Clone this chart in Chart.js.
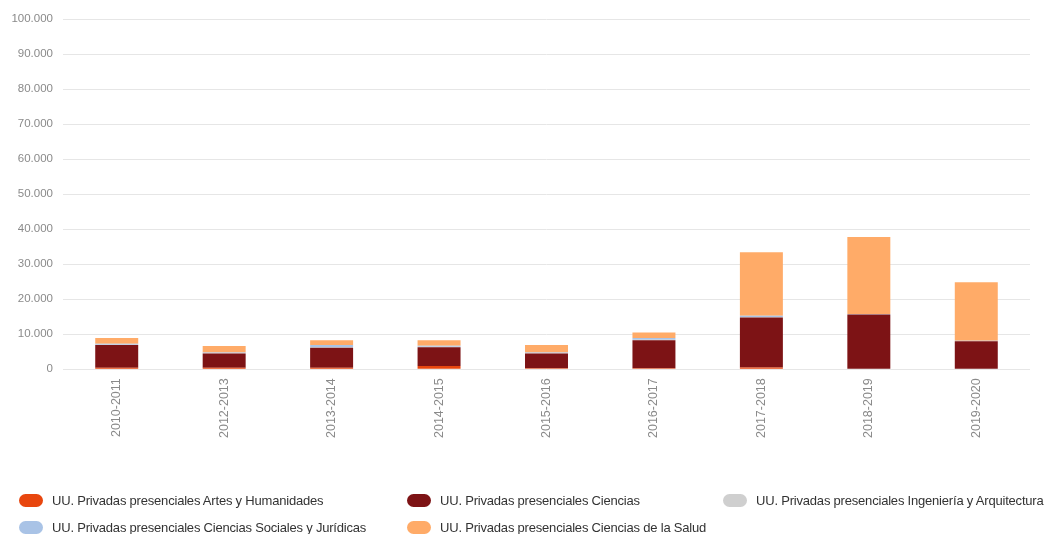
<!DOCTYPE html>
<html>
<head>
<meta charset="utf-8">
<script src="https://cdn.jsdelivr.net/npm/chart.js@4/dist/chart.umd.min.js"></script>
<style>
  html, body { margin: 0; padding: 0; background: #fff; }
  #wrap { position: relative; width: 1047px; height: 534px; overflow: hidden; }
  #chartBox { position: absolute; left: 0; top: 0; width: 1047px; height: 460px; }
  #legend { position: absolute; left: 0; top: 0; width: 1047px; height: 534px; pointer-events: none; }
  .lg-item { position: absolute; display: flex; align-items: center; white-space: nowrap;
    font-family: "Liberation Sans", Arial, sans-serif; font-size: 13px; letter-spacing: -0.2px; color: #333; }
  .lg-box { width: 24px; height: 13px; border-radius: 7px; margin-right: 9px; flex: none; }
</style>
</head>
<body>
<div id="wrap">
  <div id="chartBox"><canvas id="c"></canvas></div>
  <div id="legend"></div>
</div>
<script>
const categories = ['2010-2011','2012-2013','2013-2014','2014-2015','2015-2016','2016-2017','2017-2018','2018-2019','2019-2020'];
const seriesNames = [
  'UU. Privadas presenciales Artes y Humanidades',
  'UU. Privadas presenciales Ciencias',
  'UU. Privadas presenciales Ingeniería y Arquitectura',
  'UU. Privadas presenciales Ciencias Sociales y Jurídicas',
  'UU. Privadas presenciales Ciencias de la Salud'
];
const artes      = [400, 400, 400, 900, 300, 300, 500, 100, 100];
const ciencias   = [6500, 4100, 5700, 5400, 4200, 8000, 14300, 15500, 7900];
const ingenieria = [100, 100, 200, 100, 100, 100, 100, 50, 50];
const sociales   = [300, 200, 600, 300, 200, 500, 400, 100, 50];
const salud      = [1600, 1850, 1400, 1600, 2100, 1600, 18100, 22000, 16700];
const yTicks     = [0, 10000, 20000, 30000, 40000, 50000, 60000, 70000, 80000, 90000, 100000];

const colors = ['#e8460e', '#7d1315', '#cfcfcf', '#a9c3e6', '#ffab68'];
const values = [artes, ciencias, ingenieria, sociales, salud];

const datasets = seriesNames.map((name, i) => ({
  label: name,
  data: values[i],
  backgroundColor: colors[i],
  borderWidth: 0,
  categoryPercentage: 0.8,
  barPercentage: 0.5
}));

function fmt(v) {
  return String(v).replace(/\B(?=(\d{3})+(?!\d))/g, '.');
}

const chart = new Chart(document.getElementById('c'), {
  type: 'bar',
  data: { labels: categories, datasets },
  options: {
    responsive: true,
    maintainAspectRatio: false,
    animation: false,
    layout: { padding: { top: 19, right: 17, bottom: 13, left: 0 } },
    plugins: { legend: { display: false }, tooltip: { enabled: false } },
    scales: {
      x: {
        stacked: true,
        grid: { display: false, drawTicks: false },
        border: { display: false },
        ticks: {
          color: '#8a8a8a', font: { family: 'Liberation Sans, Arial, sans-serif', size: 12.5 },
          minRotation: 90, maxRotation: 90, padding: 9, autoSkip: false
        }
      },
      y: {
        stacked: true,
        min: 0, max: 100000,
        afterBuildTicks: (s) => { s.ticks = yTicks.map(v => ({ value: v })); },
        afterFit: (s) => { s.width = 63; },
        grid: { color: '#e6e6e6', lineWidth: 1, drawTicks: false },
        border: { display: false },
        ticks: {
          color: '#8a8a8a', font: { family: 'Liberation Sans, Arial, sans-serif', size: 11.5 },
          padding: 10,
          callback: (v) => fmt(v)
        }
      }
    }
  }
});

// HTML legend built from the chart's datasets
const colLeft = [19, 407, 723];
const rowTop = [493, 520];
const lg = document.getElementById('legend');
chart.data.datasets.forEach((ds, i) => {
  const item = document.createElement('div');
  item.className = 'lg-item';
  item.style.left = colLeft[i % 3] + 'px';
  item.style.top = rowTop[Math.floor(i / 3)] + 'px';
  const box = document.createElement('span');
  box.className = 'lg-box';
  box.style.background = ds.backgroundColor;
  const txt = document.createElement('span');
  txt.textContent = ds.label;
  item.appendChild(box);
  item.appendChild(txt);
  lg.appendChild(item);
});
</script>
</body>
</html>
